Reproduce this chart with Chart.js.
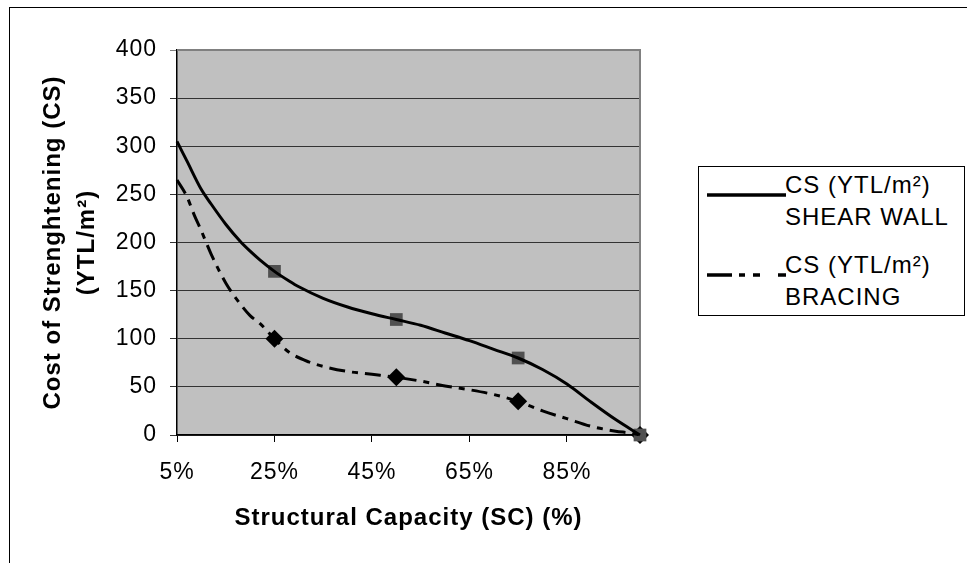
<!DOCTYPE html>
<html>
<head>
<meta charset="utf-8">
<script src="https://cdn.jsdelivr.net/npm/chart.js@4/dist/chart.umd.min.js"></script>
<style>
  html, body { margin:0; padding:0; background:#fff; overflow:hidden; }
  #wrap { position:relative; width:967px; height:563px; }
  #frame { position:absolute; left:9px; top:7px; width:1200px; height:800px; border-top:1px solid #000; border-left:1px solid #000; }
  canvas { position:absolute; left:0; top:0; }
  #legend { position:absolute; left:698px; top:166px; width:267px; height:150px; border:1px solid #000; background:#fff;
            font-family:"Liberation Sans", Arial, sans-serif; font-size:24px; letter-spacing:1px; color:#000; box-sizing:border-box; }
  .entry { position:absolute; left:0; width:100%; }
  .entry svg { position:absolute; left:8px; }
  .entry .txt { position:absolute; left:86px; line-height:32px; white-space:nowrap; }
</style>
</head>
<body>
<div id="wrap">
  <div id="frame"></div>
  <canvas id="c" width="967" height="563"></canvas>
  <div id="legend"></div>
</div>
<script>
// ---- data ----
const seriesNames = ["CS (YTL/m²)\nSHEAR WALL", "CS (YTL/m²)\nBRACING"];
const shearX = [5,7,10,12,15,18,20,22,25,28,30,35,40,45,50,55,60,65,70,75,80,85,90,95,100];
const shearY = [305,285,255,240,219,201,191,182,170,160,154,142,133,126,120,114,106,98,89,80,68,53,34,16,0];
const bracingX = [5,7,8.5,10,12,15,18,20,22,25,28,32,36,40,45,50,55,60,65,70,75,80,85,90,95,98,100];
const bracingY = [265,248,229,212,188,158,136,124,116,100,86,76,70,66,63,60,56,51,47,42,35,25,17,9,4,2,0];
const markerX = [25,50,75,100];
const shearMarkers = [170,120,80,0];
const bracingMarkers = [100,60,35,0];
const xTickValues = [5,25,45,65,85];
const xTitle = "Structural Capacity (SC) (%)";
const yTitle = ["Cost of Strenghtening (CS)", "(YTL/m²)"];

const pts = (xs, ys) => xs.map((x, i) => ({x, y: ys[i]}));
const FONT = '"Liberation Sans", Arial, sans-serif';

const plotBg = {
  id: 'plotBg',
  beforeUpdate(chart) { chart.ctx.letterSpacing = '1px'; },
  beforeDraw(chart) {
    const {ctx, chartArea: a} = chart;
    ctx.letterSpacing = '1px';
    ctx.save();
    ctx.fillStyle = '#C0C0C0';
    ctx.fillRect(a.left, a.top, a.right - a.left, a.bottom - a.top);
    ctx.restore();
  },
  beforeDatasetsDraw(chart) {
    const {ctx, chartArea: a} = chart;
    ctx.save();
    ctx.strokeStyle = '#808080';
    ctx.lineWidth = 2;
    ctx.beginPath();
    ctx.moveTo(a.left, a.top);
    ctx.lineTo(a.right, a.top);
    ctx.lineTo(a.right, a.bottom);
    ctx.stroke();
    ctx.restore();
  }
};

new Chart(document.getElementById('c'), {
  type: 'line',
  data: {
    datasets: [
      { label: seriesNames[0], data: pts(shearX, shearY), borderColor: '#000', borderWidth: 3,
        pointRadius: 0, cubicInterpolationMode: 'monotone', order: 1, clip: false },
      { label: seriesNames[1], data: pts(bracingX, bracingY), borderColor: '#000', borderWidth: 3,
        borderDash: [16, 7, 6, 7], pointRadius: 0, cubicInterpolationMode: 'monotone', order: 1, clip: false },
      { label: 'shear markers', data: pts(markerX, shearMarkers), showLine: false, pointStyle: 'rect',
        pointRadius: 9, backgroundColor: '#505050', borderColor: '#505050', borderWidth: 0, order: 2, clip: false },
      { label: 'bracing markers', data: pts(markerX, bracingMarkers), showLine: false, pointStyle: 'rectRot',
        pointRadius: 9, backgroundColor: '#000', borderColor: '#000', borderWidth: 0, order: 3, clip: false }
    ]
  },
  options: {
    responsive: false,
    animation: false,
    devicePixelRatio: 1,
    layout: { padding: { left: 0, top: 50, right: 327, bottom: 0 } },
    plugins: { legend: { display: false }, tooltip: { enabled: false } },
    scales: {
      x: {
        type: 'linear', min: 5, max: 100,
        afterBuildTicks: s => { s.ticks = xTickValues.map(v => ({value: v})); },
        afterFit: s => { s.height = 128; },
        ticks: { callback: v => v + '%', color: '#000', font: { family: FONT, size: 23 }, padding: 17,
                 maxRotation: 0, autoSkip: false },
        grid: { drawOnChartArea: false, drawTicks: true, tickLength: 7, color: '#000' },
        border: { color: '#000', width: 1.5 },
        title: { display: true, text: xTitle, color: '#000',
                 font: { family: FONT, size: 24, weight: 'bold', lineHeight: 1.2 },
                 padding: { top: 0, bottom: 30 } }
      },
      y: {
        min: 0, max: 400,
        afterFit: s => { s.width = 177; },
        ticks: { stepSize: 50, color: '#000', font: { family: FONT, size: 23 }, padding: 13 },
        grid: { color: c => (c.tick && c.tick.value === 400) ? '#808080' : '#333',
                lineWidth: 1, tickLength: 7 },
        border: { color: '#000', width: 1.5 },
        title: { display: true, text: yTitle, color: '#000',
                 font: { family: FONT, size: 24, weight: 'bold', lineHeight: 1.4 },
                 padding: { top: 37, bottom: 0 } }
      }
    }
  },
  plugins: [plotBg]
});

// ---- HTML legend ----
const legend = document.getElementById('legend');
const dashes = ['', '25,7,6,8,7,18,8'];
const entryTops = [2, 82];
seriesNames.forEach((name, i) => {
  const e = document.createElement('div');
  e.className = 'entry';
  e.style.top = entryTops[i] + 'px';
  const lines = name.split('\n');
  e.innerHTML =
    '<svg width="80" height="8" style="top:22px"><line x1="0" y1="4" x2="79" y2="4" stroke="#000" stroke-width="3.5"' +
    (dashes[i] ? ' stroke-dasharray="' + dashes[i] + '"' : '') + '/></svg>' +
    '<div class="txt">' + lines.join('<br>') + '</div>';
  legend.appendChild(e);
});
</script>
</body>
</html>
